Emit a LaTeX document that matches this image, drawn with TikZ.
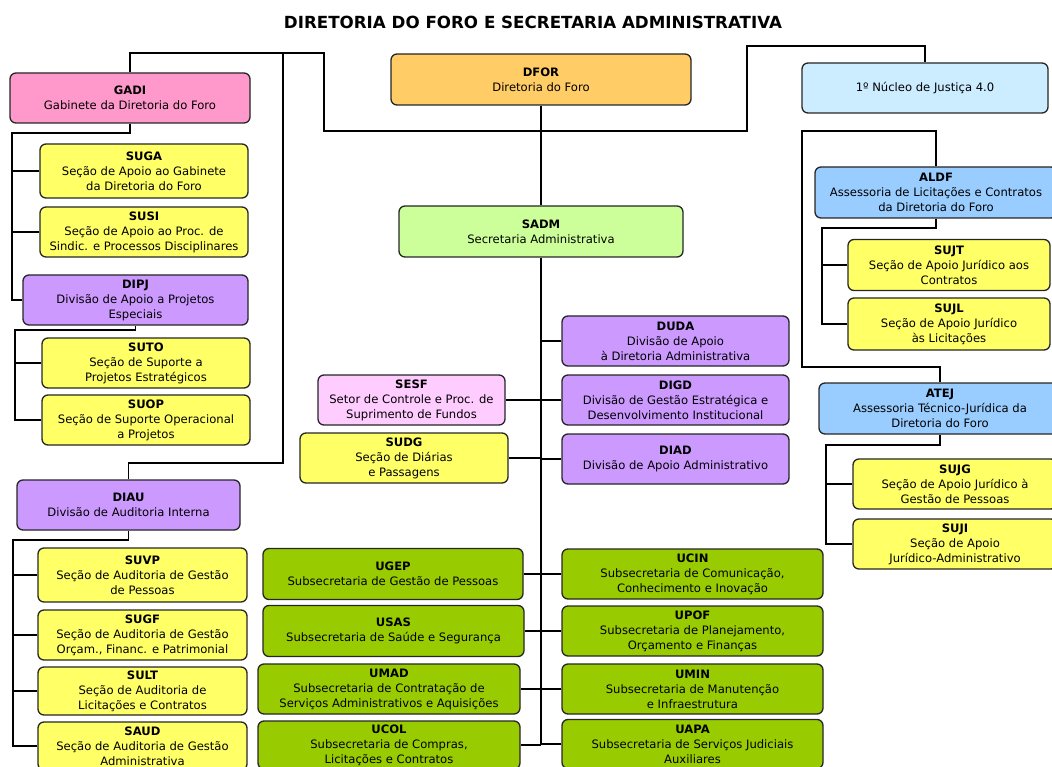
\documentclass[tikz,border=0pt]{standalone}
\usepackage{fontspec}
\setmainfont{DejaVu Sans}
\begin{document}
\begin{tikzpicture}[x=1pt, y=-1pt,
	box/.style={draw=black!85, line width=1.3pt, rounded corners=6pt, align=center, inner sep=0pt, font=\fontsize{11.6}{15}\selectfont},
	sz/.style 2 args={minimum width=#1pt, minimum height=#2pt},
	link/.style={line width=1.3pt}]
	
	% ==========================================
	% 1. CORES
	% ==========================================
	\definecolor{pinkcol}{RGB}{255, 153, 204}   % GADI
	\definecolor{orangecol}{RGB}{255, 204, 102} % DFOR
	\definecolor{skycol}{RGB}{204, 236, 255}    % Nucleo
	\definecolor{limecol}{RGB}{204, 255, 153}   % SADM
	\definecolor{bluecol}{RGB}{153, 204, 255}   % assessorias
	\definecolor{yelcol}{RGB}{255, 255, 102}    % secoes
	\definecolor{lilaccol}{RGB}{204, 153, 255}  % divisoes
	\definecolor{rosecol}{RGB}{255, 204, 255}   % SESF
	\definecolor{greencol}{RGB}{153, 204, 0}    % subsecretarias
	
	% ==========================================
	% 2. AREA DO DESENHO
	% ==========================================
	\useasboundingbox (0,0) rectangle (1052,767);
	\clip (0,0) rectangle (1052,767);
	
	% Titulo
	\node[font=\bfseries\fontsize{16.7}{20}\selectfont] (title) at (533,22) {DIRETORIA DO FORO E SECRETARIA ADMINISTRATIVA};
	
	% ==========================================
	% 3. TOPO
	% ==========================================
	\node[box, fill=orangecol, sz={300}{51}] (DFOR) at (541,79.5) {\textbf{DFOR}\\Diretoria do Foro};
	\node[box, fill=pinkcol, sz={240}{50}] (GADI) at (130,98) {\textbf{GADI}\\Gabinete da Diretoria do Foro};
	\node[box, fill=skycol, sz={246}{50}] (Nucleo) at (925,88) {1º Núcleo de Justiça 4.0};
	\node[box, fill=limecol, sz={284}{51}] (SADM) at (541,231.5) {\textbf{SADM}\\Secretaria Administrativa};
	
	% ==========================================
	% 4. COLUNA ESQUERDA
	% ==========================================
	\node[box, fill=yelcol, sz={208}{54}] (SUGA) at (144,171) {\textbf{SUGA}\\Seção de Apoio ao Gabinete\\da Diretoria do Foro};
	\node[box, fill=yelcol, sz={208}{50}] (SUSI) at (144,232) {\textbf{SUSI}\\Seção de Apoio ao Proc. de\\Sindic. e Processos Disciplinares};
	\node[box, fill=lilaccol, sz={225}{50}] (DIPJ) at (135.5,300) {\textbf{DIPJ}\\Divisão de Apoio a Projetos\\Especiais};
	\node[box, fill=yelcol, sz={208}{50}] (SUTO) at (146,363) {\textbf{SUTO}\\Seção de Suporte a\\Projetos Estratégicos};
	\node[box, fill=yelcol, sz={208}{50}] (SUOP) at (146,420) {\textbf{SUOP}\\Seção de Suporte Operacional\\a Projetos};
	\node[box, fill=lilaccol, sz={223}{50}] (DIAU) at (128.5,505) {\textbf{DIAU}\\Divisão de Auditoria Interna};
	\node[box, fill=yelcol, sz={209}{54}] (SUVP) at (142.5,575) {\textbf{SUVP}\\Seção de Auditoria de Gestão\\de Pessoas};
	\node[box, fill=yelcol, sz={209}{50}] (SUGF) at (142.5,635) {\textbf{SUGF}\\Seção de Auditoria de Gestão\\Orçam., Financ. e Patrimonial};
	\node[box, fill=yelcol, sz={209}{48}] (SULT) at (142.5,691) {\textbf{SULT}\\Seção de Auditoria de\\Licitações e Contratos};
	\node[box, fill=yelcol, sz={209}{48}] (SAUD) at (142.5,746) {\textbf{SAUD}\\Seção de Auditoria de Gestão\\Administrativa};
	
	% ==========================================
	% 5. CENTRO (SADM)
	% ==========================================
	\node[box, fill=rosecol, sz={187}{50}] (SESF) at (411.5,400) {\textbf{SESF}\\Setor de Controle e Proc. de\\Suprimento de Fundos};
	\node[box, fill=yelcol, sz={208}{50}] (SUDG) at (404,458) {\textbf{SUDG}\\Seção de Diárias\\e Passagens};
	\node[box, fill=lilaccol, sz={227}{50}] (DUDA) at (675.5,341) {\textbf{DUDA}\\Divisão de Apoio\\à Diretoria Administrativa};
	\node[box, fill=lilaccol, sz={227}{50}] (DIGD) at (675.5,400) {\textbf{DIGD}\\Divisão de Gestão Estratégica e\\Desenvolvimento Institucional};
	\node[box, fill=lilaccol, sz={227}{50}] (DIAD) at (675.5,459) {\textbf{DIAD}\\Divisão de Apoio Administrativo};
	
	% Subsecretarias
	\node[box, fill=greencol, sz={260}{51}] (UGEP) at (393,574) {\textbf{UGEP}\\Subsecretaria de Gestão de Pessoas};
	\node[box, fill=greencol, sz={261}{51}] (USAS) at (393.5,631) {\textbf{USAS}\\Subsecretaria de Saúde e Segurança};
	\node[box, fill=greencol, sz={262}{50}] (UMAD) at (389,689) {\textbf{UMAD}\\Subsecretaria de Contratação de\\Serviços Administrativos e Aquisições};
	\node[box, fill=greencol, sz={262}{48}] (UCOL) at (389,745) {\textbf{UCOL}\\Subsecretaria de Compras,\\Licitações e Contratos};
	\node[box, fill=greencol, sz={261}{50}] (UCIN) at (692.5,574) {\textbf{UCIN}\\Subsecretaria de Comunicação,\\Conhecimento e Inovação};
	\node[box, fill=greencol, sz={261}{50}] (UPOF) at (692.5,631) {\textbf{UPOF}\\Subsecretaria de Planejamento,\\Orçamento e Finanças};
	\node[box, fill=greencol, sz={261}{50}] (UMIN) at (692.5,689) {\textbf{UMIN}\\Subsecretaria de Manutenção\\e Infraestrutura};
	\node[box, fill=greencol, sz={261}{49}] (UAPA) at (692.5,744) {\textbf{UAPA}\\Subsecretaria de Serviços Judiciais\\Auxiliares};
	
	% ==========================================
	% 6. COLUNA DIREITA
	% ==========================================
	\node[box, fill=bluecol, sz={242}{51}] (ALDF) at (936,192.5) {\textbf{ALDF}\\Assessoria de Licitações e Contratos\\da Diretoria do Foro};
	\node[box, fill=yelcol, sz={202}{51}] (SUJT) at (949,265) {\textbf{SUJT}\\Seção de Apoio Jurídico aos\\Contratos};
	\node[box, fill=yelcol, sz={202}{52}] (SUJL) at (949,324) {\textbf{SUJL}\\Seção de Apoio Jurídico\\às Licitações};
	\node[box, fill=bluecol, sz={242}{51}] (ATEJ) at (940,408.5) {\textbf{ATEJ}\\Assessoria Técnico-Jurídica da\\Diretoria do Foro};
	\node[box, fill=yelcol, sz={204}{50}] (SUJG) at (955,484) {\textbf{SUJG}\\Seção de Apoio Jurídico à\\Gestão de Pessoas};
	\node[box, fill=yelcol, sz={204}{50}] (SUJI) at (955,544) {\textbf{SUJI}\\Seção de Apoio\\Jurídico-Administrativo};
	
	% ==========================================
	% 7. LIGACOES
	% ==========================================
	% Barramento superior (GADI - Nucleo)
	\coordinate (busA) at (324,53);
	\coordinate (busB) at (747,131);
	\coordinate (busC) at (925,46);
	\draw[link] (GADI.north) |- (busA) |- (busB) |- (busC) -- (Nucleo.north);
	
	% Ramo da DIAU
	\coordinate (busD) at (283,53);
	\coordinate (diauTop) at (128.5,463);
	\draw[link] (busD) |- (diauTop) -- (DIAU.north);
	
	% Subordinadas do GADI
	\coordinate (gadiBus) at (12,133);
	\draw[link] (GADI.south) |- (gadiBus) |- (DIPJ.west);
	\foreach \n in {SUGA,SUSI}
		\draw[link] (\n.west) -- (\n.west -| gadiBus);
	
	% Subordinadas da DIPJ
	\coordinate (dipjBus) at (15,330);
	\draw[link] (DIPJ.south) |- (dipjBus) |- (SUOP.west);
	\draw[link] (SUTO.west) -- (SUTO.west -| dipjBus);
	
	% Subordinadas da DIAU
	\coordinate (diauBus) at (13,540);
	\draw[link] (DIAU.south) |- (diauBus) |- (SAUD.west);
	\foreach \n in {SUVP,SUGF,SULT}
		\draw[link] (\n.west) -- (\n.west -| diauBus);
	
	% Assessorias (lado direito)
	\coordinate (rBus) at (802,131);
	\coordinate (atejTop) at (940,367);
	\draw[link] (ALDF.north) |- (rBus) |- (atejTop) -- (ATEJ.north);
	
	\coordinate (aldfBus) at (822,228);
	\draw[link] (ALDF.south) |- (aldfBus) |- (SUJL.west);
	\draw[link] (SUJT.west) -- (SUJT.west -| aldfBus);
	
	\coordinate (atejBus) at (826,445);
	\draw[link] (ATEJ.south) |- (atejBus) |- (SUJI.west);
	\draw[link] (SUJG.west) -- (SUJG.west -| atejBus);
	
	% Eixo central DFOR - SADM
	\coordinate (spineEnd) at (541,745);
	\draw[link] (DFOR.south) -- (SADM.north);
	\draw[link] (SADM.south) -- (spineEnd);
	\foreach \n in {DUDA,DIGD,DIAD,UCIN,UPOF,UMIN,UAPA}
		\draw[link] (\n.west) -- (\n.west -| spineEnd);
	\foreach \n in {SESF,SUDG,UGEP,USAS,UMAD,UCOL}
		\draw[link] (\n.east) -- (\n.east -| spineEnd);
	
\end{tikzpicture}
\end{document}
